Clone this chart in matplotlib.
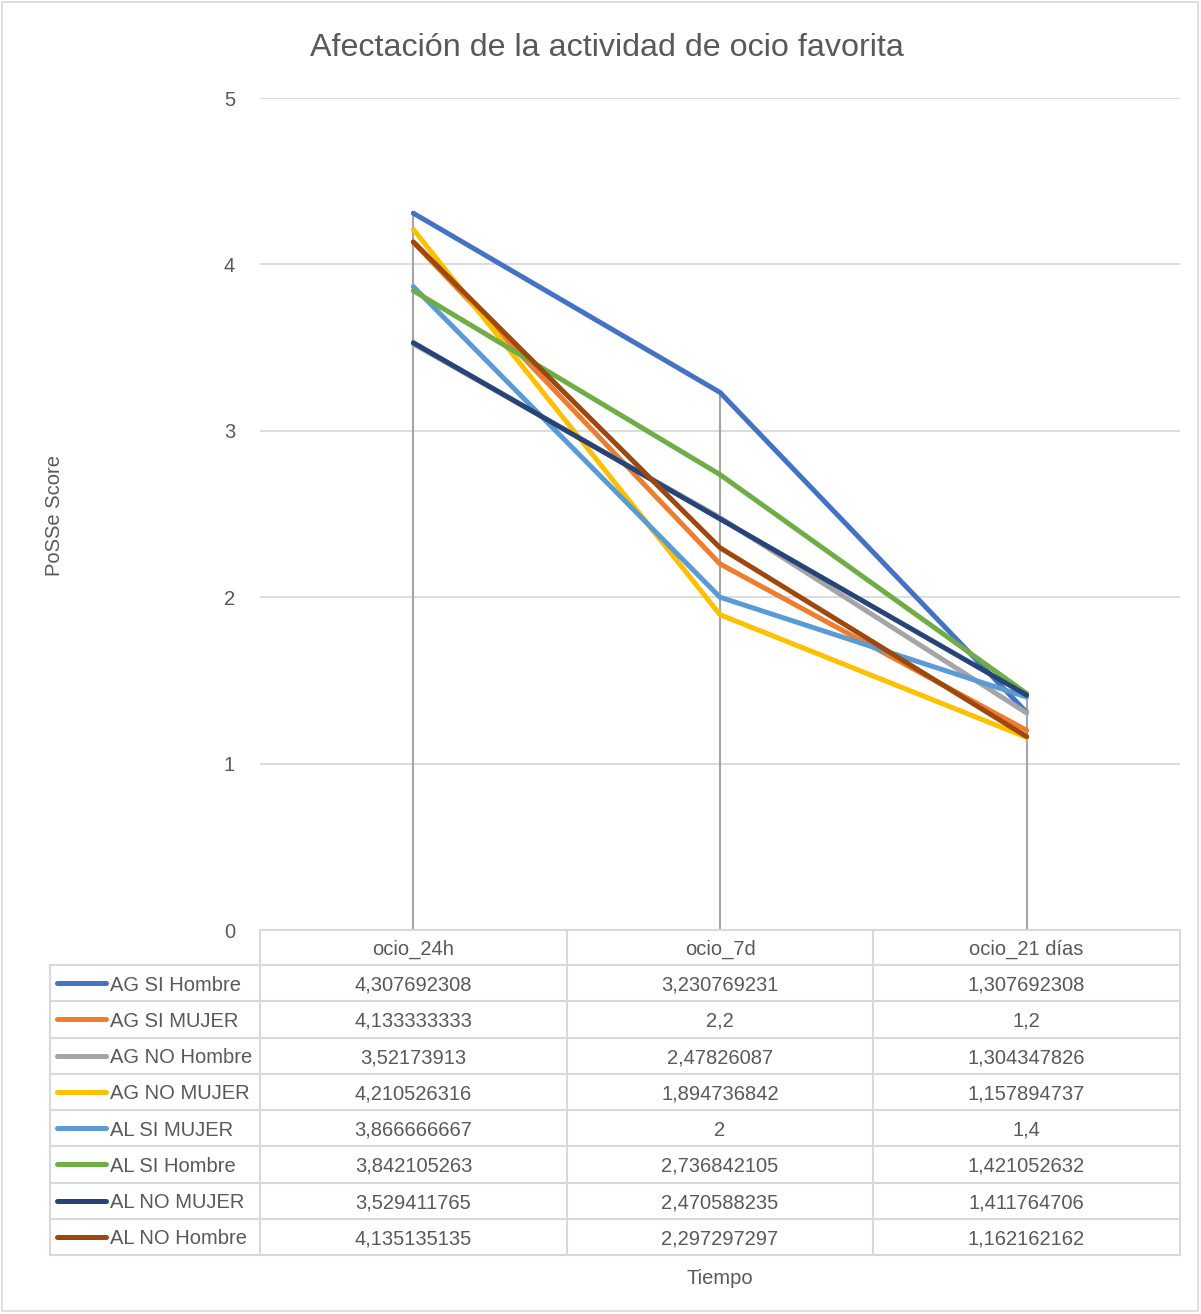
import matplotlib.pyplot as plt
from matplotlib.lines import Line2D

categories = ["ocio_24h", "ocio_7d", "ocio_21 días"]
series_names = ["AG SI Hombre", "AG SI MUJER", "AG NO Hombre", "AG NO MUJER",
                "AL SI MUJER", "AL SI Hombre", "AL NO MUJER", "AL NO Hombre"]
ag_si_hombre = [4.307692308, 3.230769231, 1.307692308]
ag_si_mujer = [4.133333333, 2.2, 1.2]
ag_no_hombre = [3.52173913, 2.47826087, 1.304347826]
ag_no_mujer = [4.210526316, 1.894736842, 1.157894737]
al_si_mujer = [3.866666667, 2.0, 1.4]
al_si_hombre = [3.842105263, 2.736842105, 1.421052632]
al_no_mujer = [3.529411765, 2.470588235, 1.411764706]
al_no_hombre = [4.135135135, 2.297297297, 1.162162162]
values = [ag_si_hombre, ag_si_mujer, ag_no_hombre, ag_no_mujer,
          al_si_mujer, al_si_hombre, al_no_mujer, al_no_hombre]
table_text = [["4,307692308", "3,230769231", "1,307692308"],
              ["4,133333333", "2,2", "1,2"],
              ["3,52173913", "2,47826087", "1,304347826"],
              ["4,210526316", "1,894736842", "1,157894737"],
              ["3,866666667", "2", "1,4"],
              ["3,842105263", "2,736842105", "1,421052632"],
              ["3,529411765", "2,470588235", "1,411764706"],
              ["4,135135135", "2,297297297", "1,162162162"]]
colors = ["#4472C4", "#ED7D31", "#A5A5A5", "#FFC000",
          "#5B9BD5", "#70AD47", "#264478", "#9E480E"]

plt.rcParams["font.family"] = ["Liberation Sans", "DejaVu Sans"]
W, H = 1201, 1314
fig = plt.figure(figsize=(W / 100, H / 100), dpi=100)
txt = "#595959"
grid = "#D9D9D9"

def fx(x):
    return x / W

def fy(y):
    return 1 - y / H

# plot area
left, right, top, bottom = 260, 1180, 98, 930
ax = fig.add_axes([fx(left), fy(bottom), fx(right - left), (bottom - top) / H])
ax.set_xlim(-0.5, 2.5)
ax.set_ylim(0, 5)
for s in ax.spines.values():
    s.set_visible(False)
ax.set_xticks([])
ax.set_yticks(range(6))
ax.tick_params(axis="y", length=0, pad=18, labelsize=14.5, labelcolor=txt)
for yv in range(1, 6):
    ax.axhline(yv, color=grid, lw=1.3, zorder=0)

# drop lines
for i in range(len(categories)):
    top_val = max(v[i] for v in values)
    ax.plot([i, i], [0, top_val], color="#A5A5A5", lw=1.5, zorder=1)

for vals, c in zip(values, colors):
    ax.plot(range(len(categories)), vals, color=c, lw=3.6, zorder=2,
            solid_capstyle="round", solid_joinstyle="round")

# data table
row_h = 36.25
header_top, header_bot = 930, 965
col_x = [260, 567, 873, 1180]
leg_x = 50
lc = "#D9D9D9"
dy = 2  # nudge text down a little

def hline(y, x0, x1):
    fig.add_artist(Line2D([fx(x0), fx(x1)], [fy(y), fy(y)], color=lc, lw=1.5))

def vline(x, y0, y1):
    fig.add_artist(Line2D([fx(x), fx(x)], [fy(y0), fy(y1)], color=lc, lw=1.5))

hline(header_top, col_x[0], col_x[-1])
hline(header_bot, leg_x, col_x[-1])
for r in range(1, len(series_names) + 1):
    hline(header_bot + r * row_h, leg_x, col_x[-1])
table_bottom = header_bot + len(series_names) * row_h
for x in col_x:
    vline(x, header_top, table_bottom)
vline(leg_x, header_bot, table_bottom)

for j, cat in enumerate(categories):
    cx = (col_x[j] + col_x[j + 1]) / 2
    fig.text(fx(cx), fy((header_top + header_bot) / 2 + dy), cat, ha="center",
             va="center", fontsize=14.5, color=txt)

for r, (name, c) in enumerate(zip(series_names, colors)):
    cy = header_bot + (r + 0.5) * row_h
    fig.add_artist(Line2D([fx(57), fx(106)], [fy(cy), fy(cy)], color=c, lw=3.6,
                          solid_capstyle="round"))
    fig.text(fx(110), fy(cy + dy), name, ha="left", va="center", fontsize=14.5,
             color=txt)
    for j in range(len(categories)):
        cx = (col_x[j] + col_x[j + 1]) / 2
        fig.text(fx(cx), fy(cy + dy), table_text[r][j], ha="center", va="center",
                 fontsize=14.5, color=txt)

fig.text(fx(607), fy(48), "Afectación de la actividad de ocio favorita",
         ha="center", va="center", fontsize=23.2, color=txt)
fig.text(fx(720), fy(1278), "Tiempo", ha="center", va="center", fontsize=14.5,
         color=txt)
fig.text(fx(55), fy(515), "PoSSe Score", ha="center", va="center", fontsize=14.5,
         color=txt, rotation=90)

# chart border
fig.add_artist(plt.Rectangle((fx(2), fy(1311)), fx(1196), (1309) / H, fill=False,
                             edgecolor="#D9D9D9", lw=1.2))

fig.savefig("out.png", dpi=100)
